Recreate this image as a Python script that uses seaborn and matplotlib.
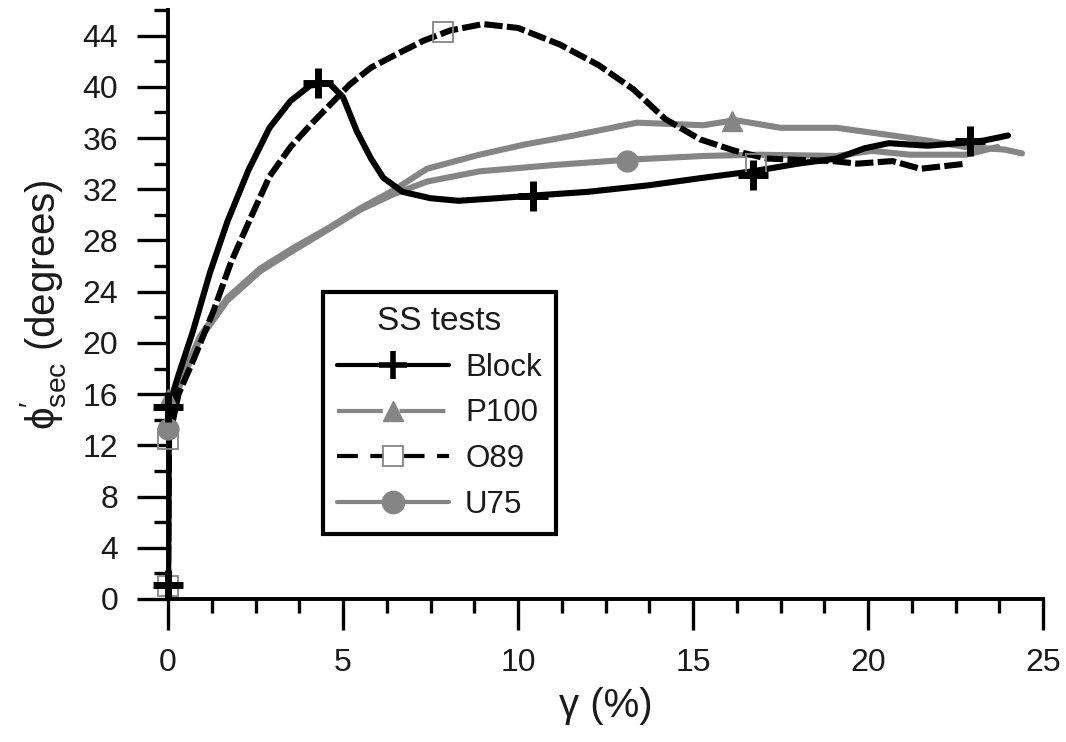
import matplotlib
matplotlib.use("Agg")
import matplotlib.pyplot as plt
from matplotlib.lines import Line2D
from matplotlib.ticker import MultipleLocator
import pandas as pd
import seaborn as sns

# Secant friction angle vs shear strain for the simple-shear tests
block_x = [0, 0.02, 0.3, 0.7, 1.2, 1.7, 2.3, 2.9, 3.5, 4.06, 4.6, 5.0, 5.4, 5.8, 6.15,
           6.7, 7.5, 8.3, 9.4, 10.4, 12.0, 13.7, 15.3, 16.7, 18.0, 19.1, 19.9, 20.6,
           21.7, 22.6, 23.3, 24.0]
block_y = [1.1, 15.0, 17.5, 20.8, 25.5, 29.5, 33.5, 36.8, 38.9, 40.1, 40.3, 39.2, 36.5,
           34.4, 32.9, 31.8, 31.3, 31.1, 31.3, 31.5, 31.8, 32.3, 32.9, 33.4, 34.0, 34.4,
           35.2, 35.6, 35.4, 35.6, 35.8, 36.2]

o89_x = [0, 0.03, 0.3, 0.7, 1.3, 1.8, 2.4, 2.9, 3.5, 4.06, 4.63, 5.2, 5.8, 6.5, 7.3,
         8.06, 9.0, 10.0, 11.2, 12.3, 13.3, 14.2, 15.2, 16.2, 17.1, 18.0, 19.0, 19.7,
         20.7, 21.5, 22.8]
o89_y = [1.0, 12.5, 16.0, 18.5, 22.5, 26.3, 30.0, 33.0, 35.3, 37.0, 38.6, 40.2, 41.5,
         42.5, 43.6, 44.4, 44.9, 44.6, 43.3, 41.7, 39.8, 37.5, 35.9, 35.0, 34.4, 34.3,
         34.2, 34.0, 34.2, 33.6, 34.0]

p100_x = [0, 0.03, 0.34, 0.91, 1.69, 2.63, 3.57, 4.54, 5.49, 6.43, 7.4, 8.9, 10.2,
          11.6, 13.4, 15.3, 16.2, 17.5, 19.1, 20.7, 21.7, 22.8, 23.9, 24.4]
p100_y = [1.0, 15.6, 16.9, 20.5, 23.5, 25.8, 27.4, 28.9, 30.5, 31.9, 33.6, 34.7, 35.5,
          36.2, 37.2, 37.0, 37.4, 36.8, 36.8, 36.2, 35.8, 35.3, 35.1, 34.8]

u75_x = [0, 0.03, 0.34, 0.91, 1.69, 2.63, 3.57, 4.54, 5.49, 6.43, 7.4, 8.9, 11.06,
         13.1, 15.3, 16.9, 19.1, 20.1, 21.2, 22.8, 23.7]
u75_y = [1.0, 13.3, 16.7, 20.3, 23.3, 25.6, 27.2, 28.8, 30.4, 31.6, 32.6, 33.4, 33.9,
         34.3, 34.6, 34.7, 34.6, 35.0, 34.7, 34.7, 35.3]

# Symbol positions along each record
block_mx = [0, 0, 4.29, 10.43, 16.7, 22.9]
block_my = [1.1, 15.0, 40.3, 31.5, 33.1, 35.8]
p100_mx = [0, 16.1]
p100_my = [15.6, 37.3]
o89_mx = [0, 0, 7.86, 16.8]
o89_my = [1.0, 12.5, 44.3, 34.0]
u75_mx = [0, 13.1]
u75_my = [13.3, 34.2]

labels = ["Block", "P100", "O89", "U75"]
legend_title = "SS tests"
x_ticks = [0, 5, 10, 15, 20, 25]
y_ticks = [0, 4, 8, 12, 16, 20, 24, 28, 32, 36, 40, 44]

BLACK = "#000000"
GREY = "#858585"
TEXT = "#1a1a1a"

sns.set_theme(style="ticks")
plt.rcParams["font.family"] = ["Liberation Sans", "DejaVu Sans"]
plt.rcParams["mathtext.fontset"] = "custom"
plt.rcParams["mathtext.rm"] = "Liberation Sans"
plt.rcParams["mathtext.it"] = "Liberation Sans:italic"

fig = plt.figure(figsize=(10.66, 7.42), dpi=100)
ax = fig.add_axes([168 / 1066, 1 - 599 / 742, 875 / 1066, 589 / 742])

LW = 4.4

def curve(x, y, color, dashes=None):
    df = pd.DataFrame({"x": x, "y": y})
    sns.lineplot(data=df, x="x", y="y", ax=ax, color=color, lw=LW, sort=False,
                 estimator=None, legend=False)
    if dashes is not None:
        ax.lines[-1].set_dashes(dashes)

curve(p100_x, p100_y, GREY)
curve(u75_x, u75_y, GREY)
curve(o89_x, o89_y, BLACK, dashes=(3.0, 0.7))
curve(block_x, block_y, BLACK)

ax.plot(p100_mx, p100_my, ls="none", marker="^", ms=14, color=GREY, clip_on=False, zorder=5)
ax.plot(u75_mx, u75_my, ls="none", marker="o", ms=15, color=GREY, clip_on=False, zorder=5)
ax.plot(o89_mx, o89_my, ls="none", marker="s", ms=14, mfc="none", mec=GREY, mew=1.3,
        clip_on=False, zorder=6)
ax.plot(block_mx, block_my, ls="none", marker="+", ms=22, mew=5, color=BLACK,
        clip_on=False, zorder=6)

ax.set_xlim(0, 25)
ax.set_ylim(0, 46)
ax.set_xticks(x_ticks)
ax.set_yticks(y_ticks)
ax.xaxis.set_minor_locator(MultipleLocator(1.25))
ax.yaxis.set_minor_locator(MultipleLocator(2))

sns.despine(ax=ax)
for side in ("left", "bottom"):
    ax.spines[side].set_linewidth(2.8)
    ax.spines[side].set_color(BLACK)
ax.tick_params(which="major", length=22, width=2.4, color=BLACK, labelsize=23,
               labelcolor=TEXT)
ax.tick_params(axis="y", which="major", pad=14)
ax.tick_params(axis="x", which="major", pad=13)
ax.tick_params(which="minor", length=10, width=2.4, color=BLACK)

ax.set_xlabel("γ (%)", fontsize=29, color=TEXT, labelpad=7)
ax.set_ylabel("ϕ$^{\\prime}_{\\mathrm{sec}}$ (degrees)", fontsize=29, color=TEXT, labelpad=10)

handles = [
    Line2D([], [], color=BLACK, lw=3, marker="+", ms=20, mew=4),
    Line2D([], [], color=GREY, lw=3, ls=(0, (11, 4)), marker="^", ms=15),
    Line2D([], [], color=BLACK, lw=3, ls=(0, (5, 3)), marker="s", ms=15, mfc="white",
           mec=GREY, mew=1.3),
    Line2D([], [], color=GREY, lw=3, marker="o", ms=16),
]
leg = ax.legend(handles, labels, title=legend_title, loc="upper left",
                bbox_to_anchor=(0.177, 0.521), borderaxespad=0, fontsize=22.5,
                title_fontsize=24, handlelength=3.6, handletextpad=0.5,
                labelspacing=0.5, borderpad=0.45, frameon=True, fancybox=False)
leg.get_frame().set_edgecolor(BLACK)
leg.get_frame().set_linewidth(3)
leg.get_frame().set_alpha(1)
for t in leg.get_texts():
    t.set_color(TEXT)
leg.get_title().set_color(TEXT)

fig.savefig("out.png", dpi=100)
